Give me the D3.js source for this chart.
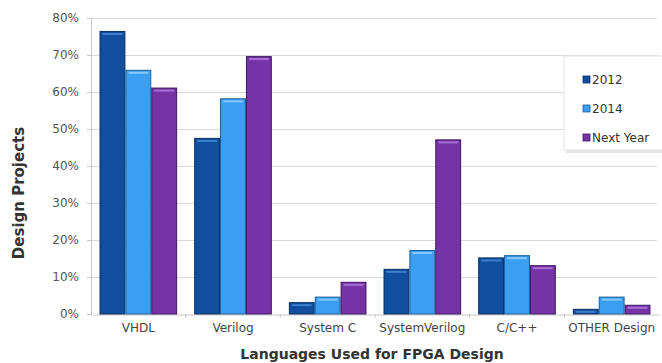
<!DOCTYPE html>
<html>
<head>
<meta charset="utf-8">
<script src="https://cdn.jsdelivr.net/npm/d3@7"></script>
<style>
  html, body { margin: 0; padding: 0; background: #fff; }
  svg { display: block; }
  text { font-family: "DejaVu Sans", Verdana, sans-serif; }
</style>
</head>
<body>
<svg id="chart" width="662" height="363"></svg>
<script>
// Languages used for FPGA design, share of design projects
const categories = ["VHDL", "Verilog", "System C", "SystemVerilog", "C/C++", "OTHER Design"];
const seriesNames = ["2012", "2014", "Next Year"];
const values2012 = [76.5, 47.6, 3.2, 12.2, 15.3, 1.4];
const values2014 = [66.0, 58.3, 4.7, 17.3, 15.9, 4.7];
const valuesNextYear = [61.2, 69.7, 8.7, 47.2, 13.2, 2.5];
const yTicks = [0, 10, 20, 30, 40, 50, 60, 70, 80];

const seriesValues = [values2012, values2014, valuesNextYear];
const fills = ["#0f4f9e", "#3a9ff0", "#7533a6"];
const edges = ["#082f63", "#1c5f9c", "#3f1761"];
const shines = ["#3c7fcc", "#86c8ff", "#a870d6"];

const svg = d3.select("#chart");
const margin = { left: 91, right: 3, top: 18, bottom: 49 };
const W = 662, H = 363;

const x = d3.scaleBand().domain(categories).range([margin.left, W - margin.right]).paddingInner(0.18).paddingOuter(0.09);
const xs = d3.scaleBand().domain(seriesNames).range([0, x.bandwidth()]);
const y = d3.scaleLinear().domain([0, 80]).range([H - margin.bottom, margin.top]);

// gridlines
svg.append("g")
  .selectAll("line").data(yTicks.filter(t => t > 0)).join("line")
  .attr("x1", margin.left).attr("x2", W - 5)
  .attr("y1", d => y(d) + 0.5).attr("y2", d => y(d) + 0.5)
  .attr("stroke", "#d9d9d9").attr("stroke-width", 1.2);

// y axis
const yAxis = svg.append("g")
  .attr("transform", `translate(${margin.left},0)`)
  .call(d3.axisLeft(y).tickValues(yTicks).tickFormat(d => d + "%").tickSize(4).tickPadding(8));
yAxis.select(".domain").attr("stroke", "#c8c8c8");
yAxis.selectAll(".tick line").attr("stroke", "#c8c8c8");
yAxis.selectAll(".tick text").attr("fill", "#555").attr("font-size", 12);

// x axis
const xAxis = svg.append("g")
  .attr("transform", `translate(0,${y(0) + 0.5})`)
  .call(d3.axisBottom(x).tickSize(0).tickPadding(9));
xAxis.select(".domain").attr("stroke", "#c8c8c8");
xAxis.selectAll(".tick text").attr("fill", "#444").attr("font-size", 12);
// category separators
const step = x.step();
svg.append("g").selectAll("line")
  .data(categories.slice(0, -1)).join("line")
  .attr("x1", d => x(d) + x.bandwidth() + (step - x.bandwidth()) / 2)
  .attr("x2", d => x(d) + x.bandwidth() + (step - x.bandwidth()) / 2)
  .attr("y1", y(0)).attr("y2", y(0) + 4)
  .attr("stroke", "#c8c8c8");

// bars
const groups = svg.append("g").selectAll("g")
  .data(categories).join("g")
  .attr("transform", d => `translate(${x(d)},0)`);

seriesNames.forEach((s, si) => {
  groups.append("rect")
    .attr("x", xs(s) + 0.5)
    .attr("y", (d, i) => y(seriesValues[si][i]) + 0.5)
    .attr("width", xs.bandwidth() - 1)
    .attr("height", (d, i) => y(0) - y(seriesValues[si][i]) - 0.5)
    .attr("fill", fills[si])
    .attr("stroke", edges[si])
    .attr("stroke-width", 1);
  groups.append("rect")
    .attr("x", xs(s) + 3)
    .attr("y", (d, i) => y(seriesValues[si][i]) + 2)
    .attr("width", xs.bandwidth() - 6)
    .attr("height", (d, i) => Math.min(2, Math.max(0, y(0) - y(seriesValues[si][i]) - 3)))
    .attr("fill", shines[si]);
});

// legend
const lg = svg.append("g").attr("transform", "translate(564,56)");
lg.append("rect").attr("x", 2).attr("y", 2).attr("width", 100).attr("height", 95).attr("fill", "#e6e6e6");
lg.append("rect").attr("x", 0).attr("y", 0).attr("width", 100).attr("height", 94).attr("fill", "#fff").attr("stroke", "#e2e2e2");
seriesNames.forEach((s, i) => {
  const row = lg.append("g").attr("transform", `translate(${19},${24 + i * 29})`);
  row.append("rect").attr("x", 0).attr("y", -4).attr("width", 7).attr("height", 7)
    .attr("fill", fills[i]).attr("stroke", edges[i]).attr("stroke-width", 0.8);
  row.append("text").attr("x", 9).attr("y", 0).attr("dy", "0.35em")
    .attr("font-size", 12).attr("fill", "#333").text(s);
});

// axis titles
svg.append("text")
  .attr("transform", "translate(24,193) rotate(-90)")
  .attr("text-anchor", "middle").attr("font-size", 15).attr("font-weight", "bold").attr("fill", "#333")
  .text("Design Projects");
svg.append("text")
  .attr("x", 372).attr("y", 359)
  .attr("text-anchor", "middle").attr("font-size", 14).attr("font-weight", "bold").attr("fill", "#333")
  .text("Languages Used for FPGA Design");
</script>
</body>
</html>
